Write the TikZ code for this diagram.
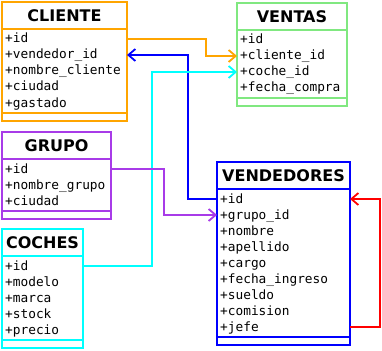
\documentclass[tikz,border=0pt]{standalone}
\usepackage{fontspec}
\setsansfont{DejaVu Sans}
\setmonofont{DejaVu Sans Mono}
\usepackage{tikz}
\usetikzlibrary{arrows.meta}
\definecolor{naranja}{HTML}{FFA500}
\definecolor{verde}{HTML}{80E880}
\definecolor{morado}{HTML}{A83BE8}
\definecolor{celeste}{HTML}{00FFFF}
\definecolor{azul}{HTML}{0000FF}
\definecolor{rojo}{HTML}{FF0000}
\tikzset{titulo/.style={rectangle, draw=#1, line width=2pt, minimum height=27pt,
   inner sep=0pt, outer sep=0pt, anchor=north west, font=\sffamily\bfseries\fontsize{16}{18}\selectfont}}
\tikzset{cuerpo/.style={rectangle, draw=#1, line width=2pt, inner sep=0pt, outer sep=0pt, anchor=north}}
\tikzset{campo/.style={anchor=west, inner sep=0pt, text height=10pt, text depth=2pt,
   font=\ttfamily\fontsize{12.8}{15}\selectfont}}
\tikzset{rel/.style={draw=#1, line width=1.8pt, -{Straight Barb[length=7pt,width=12pt]}}}

\begin{document}
\begin{tikzpicture}[x=1pt, y=-1pt]

    \useasboundingbox (0,0) rectangle (382,350);

    % CLIENTE
    \node[titulo=naranja, minimum width=125pt] (cliente) at (2,2) {CLIENTE};
    \node[cuerpo=naranja, minimum width=125pt, minimum height=84pt] (cliente-c) at (cliente.south) {};
    \node[cuerpo=naranja, minimum width=125pt, minimum height=8pt] (cliente-p) at (cliente-c.south) {};
    \foreach \c [count=\i] in {id, vendedor\_id, nombre\_cliente, ciudad, gastado}
      \node[campo] (cli-\i) at (5, 23+16*\i) {+\c};

    % VENTAS
    \node[titulo=verde, minimum width=110pt] (ventas) at (237,3) {VENTAS};
    \node[cuerpo=verde, minimum width=110pt, minimum height=68pt] (ventas-c) at (ventas.south) {};
    \node[cuerpo=verde, minimum width=110pt, minimum height=8pt] (ventas-p) at (ventas-c.south) {};
    \foreach \c [count=\i] in {id, cliente\_id, coche\_id, fecha\_compra}
      \node[campo] (ven-\i) at (240, 24+16*\i) {+\c};

    % GRUPO
    \node[titulo=morado, minimum width=109pt] (grupo) at (2,132) {GRUPO};
    \node[cuerpo=morado, minimum width=109pt, minimum height=52pt] (grupo-c) at (grupo.south) {};
    \node[cuerpo=morado, minimum width=109pt, minimum height=8pt] (grupo-p) at (grupo-c.south) {};
    \foreach \c [count=\i] in {id, nombre\_grupo, ciudad}
      \node[campo] (gru-\i) at (5, 153+16*\i) {+\c};

    % COCHES
    \node[titulo=celeste, minimum width=81pt] (coches) at (2,229) {COCHES};
    \node[cuerpo=celeste, minimum width=81pt, minimum height=84pt] (coches-c) at (coches.south) {};
    \node[cuerpo=celeste, minimum width=81pt, minimum height=8pt] (coches-p) at (coches-c.south) {};
    \foreach \c [count=\i] in {id, modelo, marca, stock, precio}
      \node[campo] (coc-\i) at (5, 250+16*\i) {+\c};

    % VENDEDORES
    \node[titulo=azul, minimum width=133pt] (vendedores) at (217,162) {VENDEDORES};
    \node[cuerpo=azul, minimum width=133pt, minimum height=148pt] (vendedores-c) at (vendedores.south) {};
    \node[cuerpo=azul, minimum width=133pt, minimum height=8pt] (vendedores-p) at (vendedores-c.south) {};
    \foreach \c [count=\i] in {id, grupo\_id, nombre, apellido, cargo, fecha\_ingreso, sueldo, comision, jefe}
      \node[campo] (vnd-\i) at (220, 183+16*\i) {+\c};

    % relaciones
    \draw[rel=naranja] (cli-1 -| cliente.east) -- ++(79,0) |- (ven-2 -| ventas.west);
    \draw[rel=azul] (vnd-1 -| vendedores.west) -- ++(-29,0) |- (cli-2 -| cliente.east);
    \draw[rel=celeste] (coc-1 -| coches.east) -- ++(69,0) |- (ven-3 -| ventas.west);
    \draw[rel=morado] (gru-1 -| grupo.east) -- ++(53,0) |- (vnd-2 -| vendedores.west);
    \draw[rel=rojo] (vnd-9 -| vendedores.east) -- ++(30,0) |- (vnd-1 -| vendedores.east);

  \end{tikzpicture}
\end{document}
